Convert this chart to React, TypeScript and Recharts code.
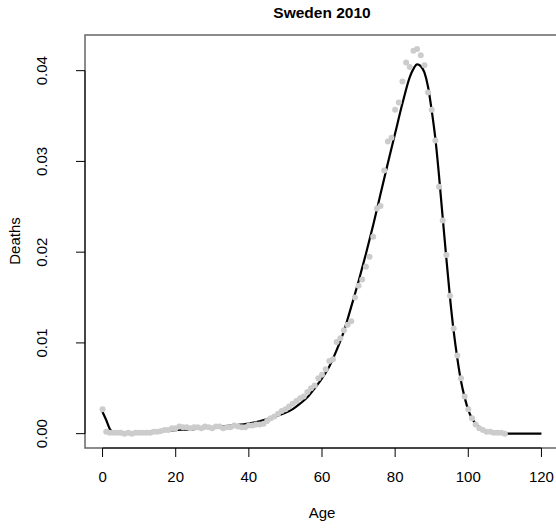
import {
  ComposedChart,
  Line,
  Scatter,
  XAxis,
  YAxis,
  ReferenceArea,
  ReferenceLine,
} from "recharts";

// observed deaths by single year of age (0..110)
const ages = Array.from({ length: 111 }, (_, i) => i);
const observed = [
  0.0027, 0.0002, 0.0001, 0.0001, 0.0001, 0.0001, 0.0, 0.0001, 0.0, 0.0001,
  0.0001, 0.0001, 0.0001, 0.0001, 0.0002, 0.0002, 0.0003, 0.0004, 0.0004, 0.0006,
  0.0006, 0.0008, 0.0007, 0.0007, 0.0006, 0.0007, 0.0007, 0.0006, 0.0008, 0.0007,
  0.0006, 0.0008, 0.0008, 0.0006, 0.0007, 0.0007, 0.0009, 0.0008, 0.0007, 0.0007,
  0.0009, 0.0009, 0.001, 0.001, 0.0011, 0.0014, 0.0017, 0.0019, 0.0022, 0.0025,
  0.0027, 0.003, 0.0033, 0.0036, 0.0039, 0.0041, 0.0046, 0.005, 0.0053, 0.0061,
  0.0065, 0.0071, 0.008, 0.0082, 0.0101, 0.0105, 0.0114, 0.012, 0.0124, 0.015,
  0.0163, 0.017, 0.0184, 0.0195, 0.0217, 0.0248, 0.0251, 0.029, 0.0322, 0.0326,
  0.0357, 0.0365, 0.0388, 0.0409, 0.0404, 0.0422, 0.0424, 0.0417, 0.0406, 0.0376,
  0.0357, 0.0323, 0.0272, 0.0235, 0.0197, 0.0152, 0.0116, 0.0086, 0.0061, 0.0041,
  0.0027, 0.0017, 0.001, 0.0006, 0.0004, 0.0002, 0.0002, 0.0001, 0.0001, 0.0001,
  0.0,
];

// fitted curve
const fitAges = [
  0, 1, 2, 3, 4, 6, 8, 10, 15, 20, 25, 30, 35, 40, 45, 48, 50, 52, 54, 56, 58,
  60, 62, 64, 66, 68, 70, 72, 74, 76, 78, 80, 82, 84, 85, 86, 87, 88, 89, 90, 91,
  92, 93, 94, 95, 96, 97, 98, 99, 100, 101, 102, 103, 104, 105, 106, 108, 110,
  115, 120,
];
const fitted = [
  0.0024, 0.0015, 0.0005, 0.0001, 0.00005, 0.00005, 0.0001, 0.0001, 0.0003,
  0.0004, 0.0005, 0.0007, 0.0009, 0.0011, 0.0016, 0.002, 0.0023, 0.0027, 0.0033,
  0.004, 0.005, 0.0061, 0.0074, 0.0092, 0.0113, 0.014, 0.0168, 0.0198, 0.023,
  0.0264, 0.0298, 0.0331, 0.0364, 0.0393, 0.0402, 0.0407, 0.0405, 0.0398, 0.0382,
  0.0356, 0.0325, 0.0284, 0.0238, 0.0193, 0.015, 0.0113, 0.0083, 0.0058, 0.004,
  0.0026, 0.0017, 0.0011, 0.0007, 0.0004, 0.0002, 0.0001, 0.00003, 0.00001, 0,
  0,
];

const xTicks = [0, 20, 40, 60, 80, 100, 120];
const yTicks = [0, 0.01, 0.02, 0.03, 0.04];

const points = ages.map((a, i) => ({ x: a, y: observed[i] }));
const curve = fitAges.map((a, i) => ({ x: a, y: fitted[i] }));

const X_DOM: [number, number] = [-4.8, 124.8];
const Y_DOM: [number, number] = [-0.00158, 0.04393];
const FONT = "'Liberation Sans', Arial, Helvetica, sans-serif";

const YTick = ({ x, y, payload }: any) => (
  <text
    x={x - 29}
    y={y}
    transform={`rotate(-90 ${x - 29} ${y})`}
    textAnchor="middle"
    fontSize={15}
    fontFamily={FONT}
    fill="#000"
  >
    {payload.value.toFixed(2)}
  </text>
);

const Dot = ({ cx, cy }: any) => <circle cx={cx} cy={cy} r={3} fill="#cccccc" />;

export default function App() {
  return (
    <div
      style={{
        position: "fixed",
        left: 0,
        top: 0,
        width: 556,
        height: 529,
        overflow: "hidden",
        background: "#fff",
      }}
    >
      <ComposedChart
        width={580}
        height={529}
        margin={{ top: 35, right: 21, bottom: 0, left: 0 }}
      >
        <XAxis
          dataKey="x"
          type="number"
          domain={X_DOM}
          ticks={xTicks}
          allowDataOverflow
          height={81}
          axisLine={false}
          tickSize={9}
          tickMargin={14}
          tickLine={{ stroke: "#000" }}
          tick={{ fontSize: 15, fontFamily: FONT, fill: "#000" }}
        />
        <YAxis
          dataKey="y"
          type="number"
          domain={Y_DOM}
          ticks={yTicks}
          allowDataOverflow
          width={85}
          axisLine={false}
          tickSize={9}
          tickMargin={0}
          tickLine={{ stroke: "#000" }}
          tick={<YTick />}
        />
        <ReferenceArea
          x1={X_DOM[0]}
          x2={X_DOM[1]}
          y1={Y_DOM[0]}
          y2={Y_DOM[1]}
          fill="none"
          stroke="#666"
          strokeWidth={1.5}
        />
        <ReferenceLine
          segment={[
            { x: 0, y: Y_DOM[0] },
            { x: 120, y: Y_DOM[0] },
          ]}
          stroke="#000"
        />
        <ReferenceLine
          segment={[
            { x: X_DOM[0], y: 0 },
            { x: X_DOM[0], y: 0.04 },
          ]}
          stroke="#000"
        />
        <Scatter
          data={points}
          dataKey="y"
          shape={<Dot />}
          isAnimationActive={false}
        />
        <Line
          data={curve}
          dataKey="y"
          type="monotone"
          stroke="#000"
          strokeWidth={2.2}
          dot={false}
          isAnimationActive={false}
        />
      </ComposedChart>
      <svg
        width={556}
        height={529}
        style={{ position: "absolute", left: 0, top: 0, pointerEvents: "none" }}
      >
        <text
          x={322}
          y={18}
          textAnchor="middle"
          fontSize={15.5}
          fontWeight="bold"
          fontFamily={FONT}
          fill="#000"
        >
          Sweden 2010
        </text>
        <text
          x={322}
          y={518}
          textAnchor="middle"
          fontSize={15}
          fontFamily={FONT}
          fill="#000"
        >
          Age
        </text>
        <text
          x={20}
          y={241}
          transform="rotate(-90 20 241)"
          textAnchor="middle"
          fontSize={15}
          fontFamily={FONT}
          fill="#000"
        >
          Deaths
        </text>
      </svg>
    </div>
  );
}
